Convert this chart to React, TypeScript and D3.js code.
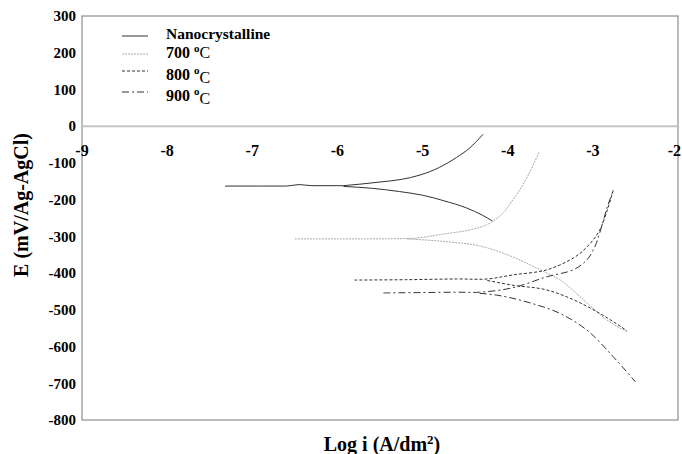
import React from "react";
import * as d3 from "d3";

// Tafel polarisation curves: log current density vs potential
const nanoFlat: [number, number][] = [
  [-7.32, -163], [-6.9, -163], [-6.6, -163], [-6.45, -159], [-6.3, -162], [-5.93, -162],
];
const nanoAnodic: [number, number][] = [
  [-5.93, -162], [-5.7, -157], [-5.5, -152], [-5.25, -145], [-5.03, -133],
  [-4.8, -112], [-4.6, -85], [-4.45, -60], [-4.29, -22],
];
const nanoCathodic: [number, number][] = [
  [-5.93, -164], [-5.6, -169], [-5.27, -178], [-5.0, -188], [-4.75, -203],
  [-4.48, -223], [-4.3, -242], [-4.18, -258],
];

const t700Anodic: [number, number][] = [
  [-6.5, -307], [-5.8, -307], [-5.18, -306], [-4.71, -292], [-4.4, -280],
  [-4.21, -264], [-4.05, -235], [-3.94, -201], [-3.77, -138], [-3.63, -70],
];
const t700Cathodic: [number, number][] = [
  [-5.18, -307], [-4.7, -315], [-4.33, -326], [-3.94, -356], [-3.62, -391],
  [-3.39, -418], [-3.07, -481], [-2.85, -525], [-2.6, -560],
];

const t800Anodic: [number, number][] = [
  [-5.8, -419], [-5.2, -418], [-4.6, -416], [-4.24, -416], [-3.94, -405],
  [-3.54, -391], [-3.23, -359], [-3.07, -329], [-2.92, -283], [-2.76, -174],
];
const t800Cathodic: [number, number][] = [
  [-4.24, -420], [-3.94, -433], [-3.54, -446], [-3.15, -481], [-2.83, -522], [-2.6, -557],
];

const t900Anodic: [number, number][] = [
  [-5.46, -454], [-5.0, -453], [-4.6, -452], [-4.33, -452], [-3.94, -440],
  [-3.54, -410], [-3.23, -391], [-3.07, -364], [-2.98, -330], [-2.92, -291],
  [-2.83, -220], [-2.76, -174],
];
const t900Cathodic: [number, number][] = [
  [-4.33, -455], [-4.13, -460], [-3.74, -481], [-3.35, -514], [-3.03, -563],
  [-2.76, -628], [-2.5, -696],
];

const xTicks = [-9, -8, -7, -6, -5, -4, -3, -2];
const yTicks = [300, 200, 100, 0, -100, -200, -300, -400, -500, -600, -700, -800];

const legendLabels = ["Nanocrystalline", "700", "800", "900"];

const W = 682;
const H = 454;
const left = 82;
const right = 678;
const top = 16;
const bottom = 420;

const x = d3.scaleLinear().domain([-9, -2]).range([left, right]);
const y = d3.scaleLinear().domain([-800, 300]).range([bottom, top]);
const line = d3
  .line<[number, number]>()
  .x((d) => x(d[0]))
  .y((d) => y(d[1]))
  .curve(d3.curveMonotoneX);
const lineY = d3
  .line<[number, number]>()
  .x((d) => x(d[0]))
  .y((d) => y(d[1]))
  .curve(d3.curveCatmullRom.alpha(0.5));

const styles = [
  { stroke: "#333", dash: undefined as string | undefined, width: 1 },
  { stroke: "#aaa", dash: "2,1", width: 1 },
  { stroke: "#333", dash: "3,2", width: 1 },
  { stroke: "#333", dash: "7,3,2,3", width: 1 },
];

const font = '"Liberation Serif", "Times New Roman", "DejaVu Serif", serif';

export default function App() {
  const series: [number, number][][][] = [
    [nanoFlat, nanoAnodic, nanoCathodic],
    [t700Anodic, t700Cathodic],
    [t800Anodic, t800Cathodic],
    [t900Anodic, t900Cathodic],
  ];
  const legendRows = [36, 54, 71, 92];
  const legendText = [39, 58, 80, 101];
  return (
    <svg
      width={W}
      height={H}
      style={{ position: "absolute", left: 0, top: 0, background: "#fff", fontFamily: font, fontWeight: "bold" }}
    >
      {/* plot frame */}
      <rect x={left} y={top} width={right - left} height={bottom - top} fill="none" stroke="#777" strokeWidth={1} />
      {/* zero potential line */}
      <line x1={left} x2={right} y1={y(0)} y2={y(0)} stroke="#c4c4c4" strokeWidth={2} />

      {/* y ticks */}
      {yTicks.map((t) => (
        <text key={t} x={76} y={y(t)} dy="0.35em" textAnchor="end" fontSize={15}>
          {t}
        </text>
      ))}
      {/* x ticks */}
      {xTicks.map((t, i) => (
        <text
          key={t}
          x={i === xTicks.length - 1 ? W - 1 : x(t)}
          y={156}
          textAnchor={i === xTicks.length - 1 ? "end" : "middle"}
          fontSize={16}
        >
          {t}
        </text>
      ))}

      {/* curves */}
      {series.map((branches, i) =>
        branches.map((b, j) => (
          <path
            key={`${i}-${j}`}
            d={(i >= 2 && j === 0 ? lineY : line)(b) || ""}
            fill="none"
            stroke={styles[i].stroke}
            strokeWidth={styles[i].width}
            strokeDasharray={styles[i].dash}
          />
        ))
      )}

      {/* legend */}
      {legendLabels.map((lab, i) => (
        <g key={lab}>
          <line
            x1={122}
            x2={148}
            y1={legendRows[i]}
            y2={legendRows[i]}
            stroke={styles[i].stroke}
            strokeDasharray={styles[i].dash}
          />
          {i === 0 ? (
            <text x={166} y={legendText[i]} fontSize={15.5}>
              {lab}
            </text>
          ) : (
            <text x={166} y={legendText[i]} fontSize={16} fontWeight="normal">
              <tspan fontWeight="bold">{lab} </tspan>
              <tspan fontSize={11} dy={-6} fontWeight="bold">o</tspan>
              <tspan dy={i === 1 ? 6 : 9} fontWeight="normal">C</tspan>
            </text>
          )}
        </g>
      ))}

      {/* axis titles */}
      <text
        transform={`translate(28,205) rotate(-90)`}
        textAnchor="middle"
        fontSize={20}
      >
        E (mV/Ag-AgCl)
      </text>
      <text x={382} y={451} textAnchor="middle" fontSize={20}>
        Log i (A/dm
        <tspan fontSize={13} dy={-7}>2</tspan>
        <tspan dy={7}>)</tspan>
      </text>
    </svg>
  );
}
